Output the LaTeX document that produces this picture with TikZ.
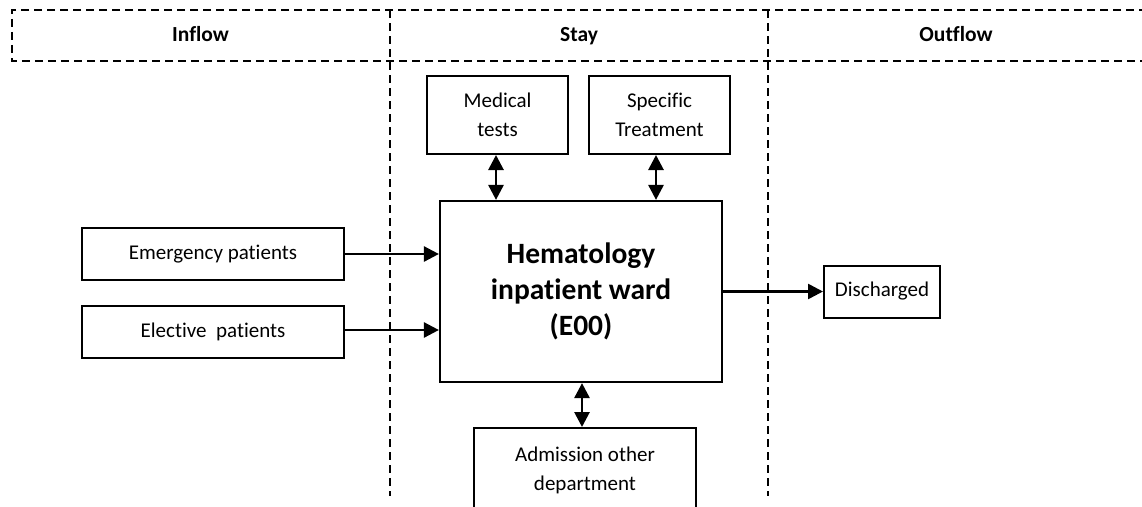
\documentclass[tikz,border=0pt]{standalone}
\usepackage{fontspec}
\setmainfont{Carlito}[Ligatures=NoCommon]
\usetikzlibrary{arrows.meta}
\begin{document}
\begin{tikzpicture}[x=1pt,y=-1pt,
  box/.style={draw, line width=2pt, align=center, inner sep=0pt,
    font=\fontsize{21}{29}\selectfont},
  mainbox/.style={draw, line width=2.2pt, align=center, inner sep=0pt,
    font=\fontsize{29.5}{36}\selectfont\bfseries},
  header/.style={font=\fontsize{21.5}{25}\selectfont\bfseries, inner sep=0pt, anchor=base},
  laneline/.style={line width=2pt, dash pattern=on 8pt off 5pt},
  flow/.style={line width=2.6pt, -{Triangle[length=15pt,width=15pt]}},
  biflow/.style={line width=2.8pt, {Triangle[length=15pt,width=15pt]}-{Triangle[length=15pt,width=15pt]}}
]
\useasboundingbox (0,0) rectangle (1142,506);
\fill[white] (0,0) rectangle (1142,506);
\clip (0,0) rectangle (1142,506);

% swimlane frame: header band and lane separators
\draw[laneline] (1160,10) -- (12,10) -- (12,61) -- (1160,61);
\draw[laneline] (389.5,10) -- (389.5,496);
\draw[laneline] (767.5,10) -- (767.5,496);

\node[header] (hin)  at (200.5,41) {Inflow};
\node[header] (hst)  at (579,41)   {Stay};
\node[header] (hout) at (956,41)   {Outflow};

% ward and surrounding process steps
\node[mainbox, minimum width=282pt, minimum height=181pt] (ward) at (581,291.5)
  {Hematology\\inpatient ward\\(E00)};

\node[box, minimum width=141pt, minimum height=78pt] (tests) at (497.5,115)
  {Medical\\tests};
\node[box, minimum width=141pt, minimum height=78pt] (treat) at (659.5,115)
  {Specific\\Treatment};

\node[box, minimum width=262pt, minimum height=52pt] (emerg) at (213,254)
  {Emergency patients};
\node[box, minimum width=262pt, minimum height=52pt] (elect) at (213,332)
  {Elective\ \ patients};

\node[box, minimum width=116pt, minimum height=52pt] (disch) at (882,291.5)
  {Discharged};

\node[box, minimum width=222pt, minimum height=84pt] (admit) at (585,470)
  {Admission other\\department};

% connectors
\draw[flow] (emerg.east) -- (emerg.east -| ward.west);
\draw[flow] (elect.east |- 0,330) -- (ward.west |- 0,330);
\draw[flow] (ward.east) -- (disch.west);
\draw[biflow] (tests.south -| 496,0) -- (ward.north -| 496,0);
\draw[biflow] (treat.south -| 656,0) -- (ward.north -| 656,0);
\draw[biflow] (ward.south -| 582,0) -- (admit.north -| 582,0);
\end{tikzpicture}
\end{document}
